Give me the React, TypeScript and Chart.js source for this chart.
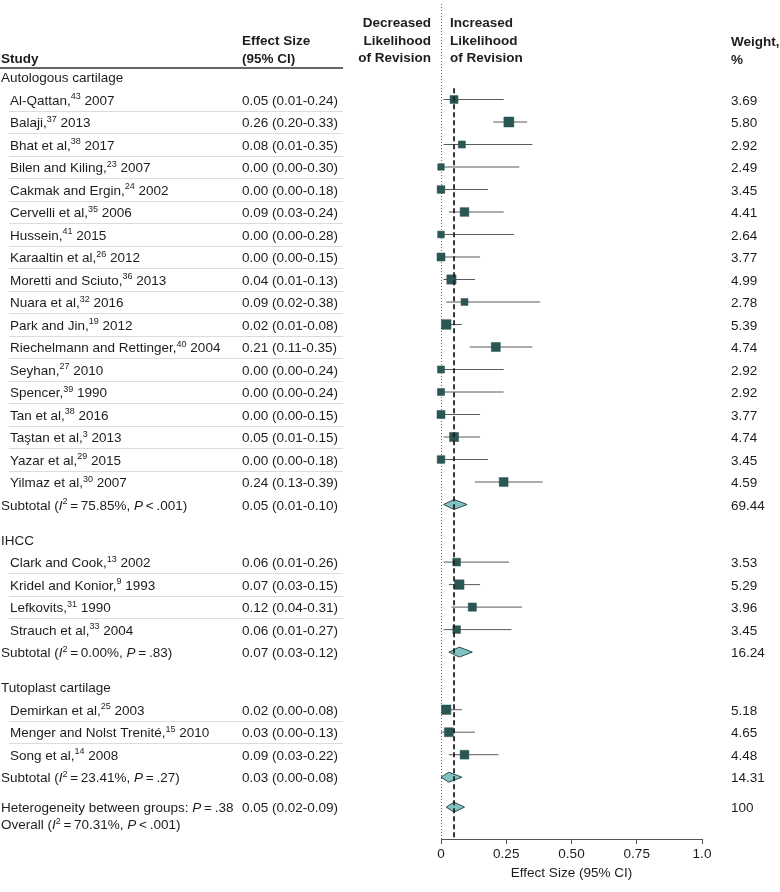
import React, { useEffect, useRef } from "react";
import { Chart, registerables } from "chart.js";

Chart.register(...registerables);

// ---------------- DATA ----------------
const groupNames = ["Autologous cartilage", "IHCC", "Tutoplast cartilage"];

const studyNames = [
  "Al-Qattan", "Balaji", "Bhat et al", "Bilen and Kiling", "Cakmak and Ergin", "Cervelli et al",
  "Hussein", "Karaaltin et al", "Moretti and Sciuto", "Nuara et al", "Park and Jin",
  "Riechelmann and Rettinger", "Seyhan", "Spencer", "Tan et al", "Taştan et al", "Yazar et al",
  "Yilmaz et al",
  "Clark and Cook", "Kridel and Konior", "Lefkovits", "Strauch et al",
  "Demirkan et al", "Menger and Nolst Trenité", "Song et al",
];
const studyRefs = [
  "43", "37", "38", "23", "24", "35", "41", "26", "36", "32", "19", "40", "27", "39", "38", "3", "29", "30",
  "13", "9", "31", "33",
  "25", "15", "14",
];
const studyYears = [
  "2007", "2013", "2017", "2007", "2002", "2006", "2015", "2012", "2013", "2016", "2012", "2004", "2010",
  "1990", "2016", "2013", "2015", "2007",
  "2002", "1993", "1990", "2004",
  "2003", "2010", "2008",
];
const studyGroups = [
  0, 0, 0, 0, 0, 0, 0, 0, 0, 0, 0, 0, 0, 0, 0, 0, 0, 0,
  1, 1, 1, 1,
  2, 2, 2,
];
const studyEffect = [
  0.05, 0.26, 0.08, 0.0, 0.0, 0.09, 0.0, 0.0, 0.04, 0.09, 0.02, 0.21, 0.0, 0.0, 0.0, 0.05, 0.0, 0.24,
  0.06, 0.07, 0.12, 0.06,
  0.02, 0.03, 0.09,
];
const studyLower = [
  0.01, 0.2, 0.01, 0.0, 0.0, 0.03, 0.0, 0.0, 0.01, 0.02, 0.01, 0.11, 0.0, 0.0, 0.0, 0.01, 0.0, 0.13,
  0.01, 0.03, 0.04, 0.01,
  0.0, 0.0, 0.03,
];
const studyUpper = [
  0.24, 0.33, 0.35, 0.3, 0.18, 0.24, 0.28, 0.15, 0.13, 0.38, 0.08, 0.35, 0.24, 0.24, 0.15, 0.15, 0.18, 0.39,
  0.26, 0.15, 0.31, 0.27,
  0.08, 0.13, 0.22,
];
const studyWeight = [
  3.69, 5.8, 2.92, 2.49, 3.45, 4.41, 2.64, 3.77, 4.99, 2.78, 5.39, 4.74, 2.92, 2.92, 3.77, 4.74, 3.45, 4.59,
  3.53, 5.29, 3.96, 3.45,
  5.18, 4.65, 4.48,
];

const subtotalI2 = ["75.85%", "0.00%", "23.41%"];
const subtotalPOp = ["<", "=", "="];
const subtotalPValue = [".001", ".83", ".27"];
const subtotalEffect = [0.05, 0.07, 0.03];
const subtotalLower = [0.01, 0.03, 0.0];
const subtotalUpper = [0.1, 0.12, 0.08];
const subtotalWeight = ["69.44", "16.24", "14.31"];

const overallEffect = [0.05];
const overallLower = [0.02];
const overallUpper = [0.09];
const overallWeight = ["100"];
const overallI2 = ["70.31%"];
const overallP = ["<", ".001"];
const heterogeneityP = ["=", ".38"];

const xTickValues = [0, 0.25, 0.5, 0.75, 1.0];
const xTickLabels = ["0", "0.25", "0.50", "0.75", "1.0"];
const xAxisTitle = "Effect Size (95% CI)";

// ---------------- STYLE / LAYOUT ----------------
const FAMILY = "'Liberation Sans', Arial, sans-serif";
const FS = 13.5;
const SUP_FS = 9;
const TEXT = "#1d1d1d";
const SQUARE = "#2a5654";
const DIAMOND_FILL = "#80c3c0";
const DIAMOND_STROKE = "#2b4c4b";

const W = 780;
const H = 892;
const ROW_H = 22.5;
const FIRST_ROW_PX = 77;
const PLOT_TOP = 8;
const PLOT_BOTTOM = 839;
const PLOT_LEFT = 441;
const PLOT_RIGHT = 702;
const COL_STUDY = 1;
const COL_STUDY_INDENT = 10;
const COL_EFFECT = 242;
const COL_WEIGHT = 731;
const TABLE_RIGHT = 343;

type Seg = { t: string; k?: "i" | "sup" | "b" };

function fontFor(k?: string) {
  if (k === "sup") return `normal ${SUP_FS}px ${FAMILY}`;
  if (k === "i") return `italic normal ${FS}px ${FAMILY}`;
  if (k === "b") return `normal bold ${FS}px ${FAMILY}`;
  return `normal normal ${FS}px ${FAMILY}`;
}

function drawRich(ctx: CanvasRenderingContext2D, segs: Seg[], x: number, yMid: number, align: "left" | "right" = "left") {
  ctx.save();
  ctx.textBaseline = "alphabetic";
  ctx.textAlign = "left";
  ctx.fillStyle = TEXT;
  let total = 0;
  for (const s of segs) {
    ctx.font = fontFor(s.k);
    total += ctx.measureText(s.t).width;
  }
  let cx = align === "right" ? x - total : x;
  const base = yMid + 5;
  for (const s of segs) {
    ctx.font = fontFor(s.k);
    ctx.fillText(s.t, cx, s.k === "sup" ? base - 5.5 : base);
    cx += ctx.measureText(s.t).width;
  }
  ctx.restore();
}

const fmt = (v: number) => v.toFixed(2);
const TS = "\u2009";

export default function App() {
  const ref = useRef<HTMLCanvasElement>(null);

  useEffect(() => {
    const canvas = ref.current;
    if (!canvas) return;

    // row positions (in row units)
    let pos = 0;
    const groupHeaderPos: number[] = [];
    const studyPos: number[] = new Array(studyNames.length).fill(0);
    const subtotalPos: number[] = [];
    groupNames.forEach((_, gi) => {
      groupHeaderPos.push(pos);
      pos += 1;
      studyGroups.forEach((sg, i) => {
        if (sg === gi) {
          studyPos[i] = pos;
          pos += 1;
        }
      });
      subtotalPos.push(pos);
      pos += 1.56;
    });
    const hetPos = subtotalPos[subtotalPos.length - 1] + 1.33;
    const overallTextPos = hetPos + 0.76;

    const yMin = (PLOT_TOP - FIRST_ROW_PX) / ROW_H;
    const yMax = (PLOT_BOTTOM - FIRST_ROW_PX) / ROW_H;

    const squareData = studyEffect.map((e, i) => ({ x: e, y: studyPos[i] }));
    const squareRadius = studyWeight.map((w) => (4.15 * Math.sqrt(w)) / Math.SQRT2);

    const ciData: { x: number; y: number | null }[] = [];
    studyEffect.forEach((_, i) => {
      ciData.push({ x: studyLower[i], y: studyPos[i] });
      ciData.push({ x: studyUpper[i], y: studyPos[i] });
      ciData.push({ x: studyUpper[i], y: null });
    });

    const forestPlugin = {
      id: "forest",
      beforeDatasetsDraw(chart: any) {
        const { ctx, scales } = chart;
        const x0 = scales.x.getPixelForValue(0);
        ctx.save();
        ctx.strokeStyle = "#6a6a6a";
        ctx.lineWidth = 1;
        ctx.setLineDash([1, 2]);
        ctx.beginPath();
        ctx.moveTo(Math.round(x0) + 0.5, 4);
        ctx.lineTo(Math.round(x0) + 0.5, PLOT_BOTTOM);
        ctx.stroke();
        ctx.restore();
      },
      afterDatasetsDraw(chart: any) {
        const { ctx, scales } = chart;
        const xs = scales.x;
        const ys = scales.y;
        const diamond = (lo: number, es: number, hi: number, p: number) => {
          const y = ys.getPixelForValue(p);
          ctx.beginPath();
          ctx.moveTo(xs.getPixelForValue(lo), y);
          ctx.lineTo(xs.getPixelForValue(es), y - 5);
          ctx.lineTo(xs.getPixelForValue(hi), y);
          ctx.lineTo(xs.getPixelForValue(es), y + 5);
          ctx.closePath();
          ctx.fillStyle = DIAMOND_FILL;
          ctx.fill();
          ctx.strokeStyle = DIAMOND_STROKE;
          ctx.lineWidth = 1;
          ctx.stroke();
        };
        ctx.save();
        subtotalEffect.forEach((e, gi) => diamond(subtotalLower[gi], e, subtotalUpper[gi], subtotalPos[gi]));
        diamond(overallLower[0], overallEffect[0], overallUpper[0], hetPos);
        // overall dashed line
        const xo = xs.getPixelForValue(overallEffect[0]);
        ctx.strokeStyle = "#222";
        ctx.lineWidth = 1.8;
        ctx.setLineDash([5, 3]);
        ctx.beginPath();
        ctx.moveTo(xo, ys.getPixelForValue(groupHeaderPos[0] + 0.5));
        ctx.lineTo(xo, PLOT_BOTTOM);
        ctx.stroke();
        ctx.restore();
      },
      afterDraw(chart: any) {
        const { ctx, scales } = chart;
        const ys = scales.y;
        const py = (p: number) => ys.getPixelForValue(p);

        // headers
        drawRich(ctx, [{ t: "Study", k: "b" }], COL_STUDY, 58);
        drawRich(ctx, [{ t: "Effect Size", k: "b" }], COL_EFFECT, 40);
        drawRich(ctx, [{ t: "(95% CI)", k: "b" }], COL_EFFECT, 58);
        drawRich(ctx, [{ t: "Decreased", k: "b" }], 431, 22, "right");
        drawRich(ctx, [{ t: "Likelihood", k: "b" }], 431, 39.5, "right");
        drawRich(ctx, [{ t: "of Revision", k: "b" }], 431, 57, "right");
        drawRich(ctx, [{ t: "Increased", k: "b" }], 450, 22);
        drawRich(ctx, [{ t: "Likelihood", k: "b" }], 450, 39.5);
        drawRich(ctx, [{ t: "of Revision", k: "b" }], 450, 57);
        drawRich(ctx, [{ t: "Weight,", k: "b" }], COL_WEIGHT, 41);
        drawRich(ctx, [{ t: "%", k: "b" }], COL_WEIGHT, 59);

        ctx.save();
        ctx.strokeStyle = "#333";
        ctx.lineWidth = 1.5;
        ctx.beginPath();
        ctx.moveTo(0, 68);
        ctx.lineTo(TABLE_RIGHT, 68);
        ctx.stroke();

        // separators between consecutive studies in a group
        ctx.strokeStyle = "#dcdcdc";
        ctx.lineWidth = 1;
        for (let i = 0; i < studyNames.length - 1; i++) {
          if (studyGroups[i] === studyGroups[i + 1]) {
            const y = Math.round((py(studyPos[i]) + py(studyPos[i + 1])) / 2) + 0.5;
            ctx.beginPath();
            ctx.moveTo(9, y);
            ctx.lineTo(TABLE_RIGHT, y);
            ctx.stroke();
          }
        }
        ctx.restore();

        groupNames.forEach((g, gi) => {
          drawRich(ctx, [{ t: g }], COL_STUDY, py(groupHeaderPos[gi]));
          drawRich(
            ctx,
            [
              { t: "Subtotal (" },
              { t: "I", k: "i" },
              { t: "2", k: "sup" },
              { t: `${TS}=${TS}${subtotalI2[gi]}, ` },
              { t: "P", k: "i" },
              { t: `${TS}${subtotalPOp[gi]}${TS}${subtotalPValue[gi]})` },
            ],
            COL_STUDY,
            py(subtotalPos[gi])
          );
          drawRich(
            ctx,
            [{ t: `${fmt(subtotalEffect[gi])} (${fmt(subtotalLower[gi])}-${fmt(subtotalUpper[gi])})` }],
            COL_EFFECT,
            py(subtotalPos[gi])
          );
          drawRich(ctx, [{ t: subtotalWeight[gi] }], COL_WEIGHT, py(subtotalPos[gi]));
        });

        studyNames.forEach((n, i) => {
          const y = py(studyPos[i]);
          drawRich(ctx, [{ t: `${n},` }, { t: studyRefs[i], k: "sup" }, { t: ` ${studyYears[i]}` }], COL_STUDY_INDENT, y);
          drawRich(ctx, [{ t: `${fmt(studyEffect[i])} (${fmt(studyLower[i])}-${fmt(studyUpper[i])})` }], COL_EFFECT, y);
          drawRich(ctx, [{ t: fmt(studyWeight[i]) }], COL_WEIGHT, y);
        });

        drawRich(
          ctx,
          [{ t: "Heterogeneity between groups: " }, { t: "P", k: "i" }, { t: `${TS}${heterogeneityP[0]}${TS}${heterogeneityP[1]}` }],
          COL_STUDY,
          py(hetPos)
        );
        drawRich(
          ctx,
          [{ t: `${fmt(overallEffect[0])} (${fmt(overallLower[0])}-${fmt(overallUpper[0])})` }],
          COL_EFFECT,
          py(hetPos)
        );
        drawRich(ctx, [{ t: overallWeight[0] }], COL_WEIGHT, py(hetPos));
        drawRich(
          ctx,
          [
            { t: "Overall (" },
            { t: "I", k: "i" },
            { t: "2", k: "sup" },
            { t: `${TS}=${TS}${overallI2[0]}, ` },
            { t: "P", k: "i" },
            { t: `${TS}${overallP[0]}${TS}${overallP[1]})` },
          ],
          COL_STUDY,
          py(overallTextPos)
        );
      },
    };

    const chart = new Chart(canvas, {
      type: "scatter",
      data: {
        datasets: [
          {
            label: "Studies",
            data: squareData,
            pointStyle: "rect",
            pointRadius: squareRadius,
            pointHoverRadius: squareRadius,
            backgroundColor: SQUARE,
            borderColor: SQUARE,
            borderWidth: 0.5,
            order: 0,
            clip: false as any,
          },
          {
            label: "95% CI",
            data: ciData as any,
            showLine: true,
            spanGaps: false,
            borderColor: "#5a5a5a",
            borderWidth: 1,
            pointRadius: 0,
            pointHoverRadius: 0,
            order: 1,
            clip: false as any,
          },
        ],
      },
      options: {
        responsive: false,
        animation: false,
        devicePixelRatio: 1,
        events: [],
        layout: {
          padding: { left: PLOT_LEFT, right: W - PLOT_RIGHT, top: PLOT_TOP, bottom: 0 },
        },
        plugins: {
          legend: { display: false },
          tooltip: { enabled: false },
        },
        scales: {
          x: {
            type: "linear",
            min: 0,
            max: 1,
            position: "bottom",
            afterBuildTicks: (scale: any) => {
              scale.ticks = xTickValues.map((v) => ({ value: v }));
            },
            ticks: {
              callback: (_v: any, idx: number) => xTickLabels[idx],
              font: { family: FAMILY, size: FS },
              color: TEXT,
              padding: 2,
              maxRotation: 0,
              autoSkip: false,
            },
            grid: {
              display: true,
              drawOnChartArea: false,
              drawTicks: true,
              tickLength: 5,
              color: "#555",
              lineWidth: 1,
            },
            border: { display: true, color: "#555", width: 1 },
            title: {
              display: true,
              text: xAxisTitle,
              font: { family: FAMILY, size: FS },
              color: TEXT,
              padding: { top: 0, bottom: 11 },
            },
            afterFit: (scale: any) => {
              scale.height = H - PLOT_BOTTOM;
            },
          },
          y: {
            type: "linear",
            display: false,
            reverse: true,
            min: yMin,
            max: yMax,
          },
        },
      },
      plugins: [forestPlugin],
    } as any);

    return () => chart.destroy();
  }, []);

  return (
    <div style={{ position: "absolute", left: 0, top: 0, width: W, height: H }}>
      <canvas ref={ref} width={W} height={H} style={{ display: "block", width: W, height: H }} />
    </div>
  );
}
